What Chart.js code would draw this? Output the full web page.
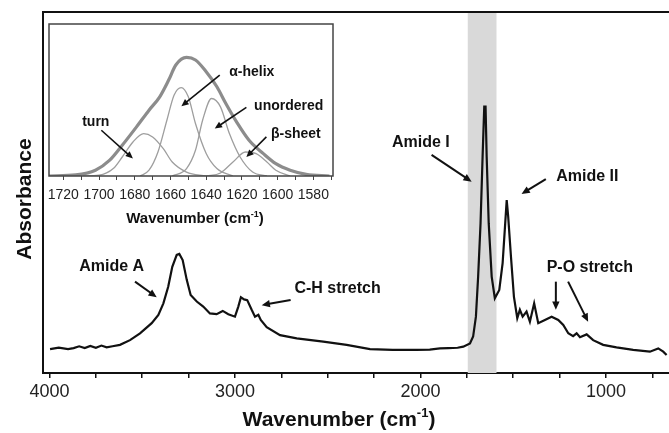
<!DOCTYPE html>
<html>
<head>
<meta charset="utf-8">
<script src="https://cdn.jsdelivr.net/npm/chart.js@4.4.0/dist/chart.umd.min.js"></script>
<style>
    body { margin: 0; background: #fff; }
    #wrap { position: relative; width: 669px; height: 433px; }
    #mainChart { position: absolute; left: 0; top: 0; }
    #insetChart { position: absolute; left: 40px; top: 20px; }
</style>
</head>
<body>
<div id="wrap">
    <canvas id="mainChart" width="669" height="433"></canvas>
    <canvas id="insetChart" width="305" height="212"></canvas>
</div>
<script>
// full FTIR spectrum
const spectrumWavenumber = [
    3997, 3950, 3900, 3870, 3840, 3810, 3780, 3750, 3720, 3692, 3660, 3620, 3566, 3512,
    3449, 3413, 3386, 3360, 3338, 3314, 3300, 3282, 3260, 3239, 3206, 3171, 3135, 3099,
    3066, 3036, 3000, 2982, 2968, 2951, 2934, 2910, 2892, 2874, 2861, 2829, 2757, 2667,
    2524, 2398, 2272, 2150, 2021, 1950, 1895, 1850, 1800, 1769, 1733, 1716, 1701, 1689,
    1676, 1665, 1656, 1649, 1643, 1632, 1616, 1599, 1575, 1557, 1543, 1535, 1527, 1512,
    1496, 1478, 1464, 1449, 1428, 1410, 1387, 1365, 1329, 1293, 1257, 1230, 1203, 1177,
    1158, 1140, 1104, 1069, 1015, 943, 853, 763, 718, 691, 673
];
const spectrumAbsorbance = [
    6.6, 7.0, 6.6, 6.9, 7.4, 6.9, 7.5, 7.0, 7.6, 7.1, 7.4, 7.8, 9.1, 11.0,
    13.8, 16.1, 19.3, 23.9, 29.4, 32.7, 33.0, 31.3, 25.8, 21.6, 19.8, 18.4, 16.5, 16.3,
    17.2, 16.3, 15.6, 18.4, 21.0, 20.4, 20.2, 17.5, 15.6, 16.1, 14.7, 12.7, 10.5, 9.6,
    8.7, 7.8, 6.6, 6.4, 6.4, 6.5, 6.8, 6.9, 7.0, 7.3, 8.2, 10.1, 15.6, 26.7,
    41.5, 59.9, 73.8, 73.8, 59.9, 41.5, 26.7, 20.7, 23.0, 30.4, 41.5, 47.9, 43.3, 32.2,
    21.1, 15.2, 17.5, 15.6, 17.0, 14.2, 19.3, 13.8, 14.7, 15.6, 14.7, 13.3, 11.0, 10.2,
    11.0, 9.9, 10.7, 9.1, 7.8, 7.1, 6.4, 5.9, 6.8, 5.9, 5.0
];
const mainTickValues = [4000, 3750, 3500, 3250, 3000, 2750, 2500, 2250, 2000, 1750, 1500, 1250, 1000, 750];
const mainTickLabels = ['4000', '', '', '', '3000', '', '', '', '2000', '', '', '', '1000', ''];
const amideIBand = [1745, 1590];

// inset: amide I band fit
const envelopeWavenumber = [1728, 1713, 1702, 1694, 1687, 1679, 1672, 1666, 1661, 1657, 1651, 1646, 1640, 1634, 1629, 1623, 1616, 1608, 1601, 1593, 1584, 1571];
const envelopeValue = [0, 0.7, 3.8, 10.4, 20.2, 32.3, 43.3, 52.1, 63.1, 73.0, 78.0, 76.3, 68.6, 58.7, 47.7, 35.6, 23.5, 14.7, 8.1, 3.8, 1.1, 0];
const turnWavenumber = [1709, 1700, 1692, 1687, 1681, 1675, 1670, 1664, 1659, 1651, 1640];
const turnValue = [0, 0.5, 4.9, 12.5, 22.4, 27.9, 25.7, 18.0, 9.2, 2.6, 0];
const helixWavenumber = [1677, 1672, 1667, 1662, 1658, 1654, 1650, 1646, 1640, 1634, 1625];
const helixValue = [0, 3.8, 15.8, 36.7, 53.2, 58.2, 52.1, 34.5, 14.8, 4.9, 0];
const unorderedWavenumber = [1659, 1651, 1646, 1642, 1637, 1632, 1627, 1621, 1614, 1606];
const unorderedValue = [0, 4.9, 16.9, 36.7, 51.0, 45.5, 27.9, 12.5, 2.6, 0];
const sheetWavenumber = [1640, 1632, 1625, 1618, 1612, 1606, 1601, 1593];
const sheetValue = [0, 2.0, 9.2, 15.8, 14.7, 9.2, 3.8, 0];
const insetTickValues = [1720, 1710, 1700, 1690, 1680, 1670, 1660, 1650, 1640, 1630, 1620, 1610, 1600, 1590, 1580, 1570];
const insetTickLabels = ['1720', '', '1700', '', '1680', '', '1660', '', '1640', '', '1620', '', '1600', '', '1580', ''];

// annotations, positioned in data units
const mainLabels = [
    { text: 'Amide A', wn: 3665, abs: 29.4 },
    { text: 'C-H stretch', wn: 2447, abs: 23.5 },
    { text: 'Amide I', wn: 1998, abs: 63.7 },
    { text: 'Amide II', wn: 1100, abs: 54.3 },
    { text: 'P-O stretch', wn: 1087, abs: 29.1 }
];
const mainArrows = [
    [3539, 25.3, 3422, 21.0],
    [2700, 20.2, 2856, 18.8],
    [1940, 60.4, 1724, 53.0],
    [1324, 53.7, 1455, 49.6],
    [1270, 25.3, 1270, 17.5],
    [1204, 25.3, 1096, 14.2]
];
const insetLabels = [
    { text: 'turn', wn: 1701.8, v: 35.4 },
    { text: 'α-helix', wn: 1614.5, v: 68.3 },
    { text: 'unordered', wn: 1593.8, v: 45.9 },
    { text: 'β-sheet', wn: 1589.8, v: 27.5 }
];
const insetArrows = [
    [1698.7, 30.1, 1681, 11.5],
    [1632.4, 66.4, 1653.9, 45.9],
    [1617.5, 45.1, 1635.2, 31.2],
    [1606.3, 25.7, 1617.5, 12.5]
];

const FONT = '"Liberation Sans", Arial, Helvetica, sans-serif';

function toPoints(xs, ys) {
    return xs.map((x, i) => ({ x: x, y: ys[i] }));
}

function drawArrow(ctx, x1, y1, x2, y2, width, head) {
    const ang = Math.atan2(y2 - y1, x2 - x1);
    ctx.save();
    ctx.strokeStyle = '#111';
    ctx.fillStyle = '#111';
    ctx.lineWidth = width;
    ctx.beginPath();
    ctx.moveTo(x1, y1);
    ctx.lineTo(x2 - Math.cos(ang) * head * 0.7, y2 - Math.sin(ang) * head * 0.7);
    ctx.stroke();
    ctx.beginPath();
    ctx.moveTo(x2, y2);
    ctx.lineTo(x2 - head * Math.cos(ang - 0.42), y2 - head * Math.sin(ang - 0.42));
    ctx.lineTo(x2 - head * Math.cos(ang + 0.42), y2 - head * Math.sin(ang + 0.42));
    ctx.closePath();
    ctx.fill();
    ctx.restore();
}

// "Wavenumber (cm-1)" with a raised -1
function drawWavenumberTitle(ctx, cx, cy, size) {
    const supSize = Math.round(size * 0.62);
    ctx.save();
    ctx.fillStyle = '#111';
    ctx.textBaseline = 'middle';
    ctx.textAlign = 'left';
    ctx.font = 'bold ' + size + 'px ' + FONT;
    const a = 'Wavenumber (cm';
    const wa = ctx.measureText(a).width;
    const wc = ctx.measureText(')').width;
    ctx.font = 'bold ' + supSize + 'px ' + FONT;
    const wb = ctx.measureText('-1').width;
    let x = cx - (wa + wb + wc) / 2;
    ctx.font = 'bold ' + size + 'px ' + FONT;
    ctx.fillText(a, x, cy);
    x += wa;
    ctx.font = 'bold ' + supSize + 'px ' + FONT;
    ctx.fillText('-1', x, cy - size * 0.33);
    x += wb;
    ctx.font = 'bold ' + size + 'px ' + FONT;
    ctx.fillText(')', x, cy);
    ctx.restore();
}

const mainPlugin = {
    id: 'mainDecor',
    beforeDatasetsDraw(chart) {
        const { ctx, chartArea, scales } = chart;
        const x1 = scales.x.getPixelForValue(amideIBand[0]);
        const x2 = scales.x.getPixelForValue(amideIBand[1]);
        ctx.save();
        ctx.fillStyle = '#d9d9d9';
        ctx.fillRect(x1, chartArea.top, x2 - x1, chartArea.bottom - chartArea.top);
        ctx.restore();
    },
    afterDraw(chart) {
        const { ctx, chartArea, scales } = chart;
        ctx.save();
        ctx.strokeStyle = '#111';
        ctx.lineWidth = 2;
        ctx.beginPath();
        ctx.moveTo(chartArea.left, chartArea.bottom);
        ctx.lineTo(chartArea.left, chartArea.top);
        ctx.lineTo(chartArea.right, chartArea.top);
        ctx.stroke();

        ctx.fillStyle = '#111';
        ctx.textAlign = 'center';
        ctx.textBaseline = 'middle';
        ctx.font = 'bold 16px ' + FONT;
        mainLabels.forEach(l => {
            ctx.fillText(l.text, scales.x.getPixelForValue(l.wn), scales.y.getPixelForValue(l.abs));
        });
        mainArrows.forEach(a => {
            drawArrow(ctx,
                scales.x.getPixelForValue(a[0]), scales.y.getPixelForValue(a[1]),
                scales.x.getPixelForValue(a[2]), scales.y.getPixelForValue(a[3]), 2, 9);
        });

        ctx.save();
        ctx.translate(25, 199);
        ctx.rotate(-Math.PI / 2);
        ctx.font = 'bold 21px ' + FONT;
        ctx.fillText('Absorbance', 0, 0);
        ctx.restore();

        drawWavenumberTitle(ctx, 339, 420, 21);
        ctx.restore();
    }
};

const insetPlugin = {
    id: 'insetDecor',
    afterDraw(chart) {
        const { ctx, chartArea, scales } = chart;
        ctx.save();
        ctx.strokeStyle = '#444';
        ctx.lineWidth = 1.5;
        ctx.strokeRect(chartArea.left, chartArea.top, chartArea.right - chartArea.left, chartArea.bottom - chartArea.top);

        ctx.fillStyle = '#111';
        ctx.textAlign = 'center';
        ctx.textBaseline = 'middle';
        ctx.font = 'bold 14px ' + FONT;
        insetLabels.forEach(l => {
            ctx.fillText(l.text, scales.x.getPixelForValue(l.wn), scales.y.getPixelForValue(l.v));
        });
        insetArrows.forEach(a => {
            drawArrow(ctx,
                scales.x.getPixelForValue(a[0]), scales.y.getPixelForValue(a[1]),
                scales.x.getPixelForValue(a[2]), scales.y.getPixelForValue(a[3]), 1.6, 8);
        });
        drawWavenumberTitle(ctx, 155, 199, 15);
        ctx.restore();
    }
};

new Chart(document.getElementById('mainChart'), {
    type: 'line',
    data: {
        datasets: [{
            data: toPoints(spectrumWavenumber, spectrumAbsorbance),
            borderColor: '#111',
            borderWidth: 2.2,
            pointRadius: 0,
            tension: 0
        }]
    },
    options: {
        responsive: false,
        animation: false,
        devicePixelRatio: 1,
        layout: { padding: { left: 43, top: 12, right: 0, bottom: 0 } },
        plugins: { legend: { display: false }, tooltip: { enabled: false } },
        scales: {
            x: {
                type: 'linear',
                reverse: true,
                min: 660,
                max: 4035,
                afterBuildTicks: (scale) => {
                    scale.ticks = mainTickValues.map(v => ({ value: v }));
                },
                afterFit: (scale) => { scale.height = 60; },
                grid: { drawOnChartArea: false, tickLength: 5, color: '#111', lineWidth: 1.5 },
                border: { display: true, color: '#111', width: 2 },
                ticks: {
                    autoSkip: false,
                    maxRotation: 0,
                    padding: 3,
                    color: '#222',
                    font: { family: FONT, size: 18 },
                    callback: (value, index) => mainTickLabels[index]
                }
            },
            y: { display: false, min: 0, max: 100 }
        }
    },
    plugins: [mainPlugin]
});

const thin = { borderColor: '#9e9e9e', borderWidth: 1.3, pointRadius: 0, cubicInterpolationMode: 'monotone' };

new Chart(document.getElementById('insetChart'), {
    type: 'line',
    data: {
        datasets: [
            { data: toPoints(envelopeWavenumber, envelopeValue), borderColor: '#8c8c8c', borderWidth: 3.2, pointRadius: 0, cubicInterpolationMode: 'monotone' },
            Object.assign({ data: toPoints(turnWavenumber, turnValue) }, thin),
            Object.assign({ data: toPoints(helixWavenumber, helixValue) }, thin),
            Object.assign({ data: toPoints(unorderedWavenumber, unorderedValue) }, thin),
            Object.assign({ data: toPoints(sheetWavenumber, sheetValue) }, thin)
        ]
    },
    options: {
        responsive: false,
        animation: false,
        devicePixelRatio: 1,
        layout: { padding: { left: 9, top: 4, right: 12, bottom: 0 } },
        plugins: { legend: { display: false }, tooltip: { enabled: false } },
        scales: {
            x: {
                type: 'linear',
                reverse: true,
                min: 1569,
                max: 1728,
                afterBuildTicks: (scale) => {
                    scale.ticks = insetTickValues.map(v => ({ value: v }));
                },
                afterFit: (scale) => { scale.height = 56; },
                grid: { drawOnChartArea: false, tickLength: 4, color: '#444', lineWidth: 1 },
                border: { display: false },
                ticks: {
                    autoSkip: false,
                    maxRotation: 0,
                    padding: 7,
                    color: '#222',
                    font: { family: FONT, size: 14 },
                    callback: (value, index) => insetTickLabels[index]
                }
            },
            y: { display: false, min: 0, max: 100 }
        }
    },
    plugins: [insetPlugin]
});
</script>
</body>
</html>
